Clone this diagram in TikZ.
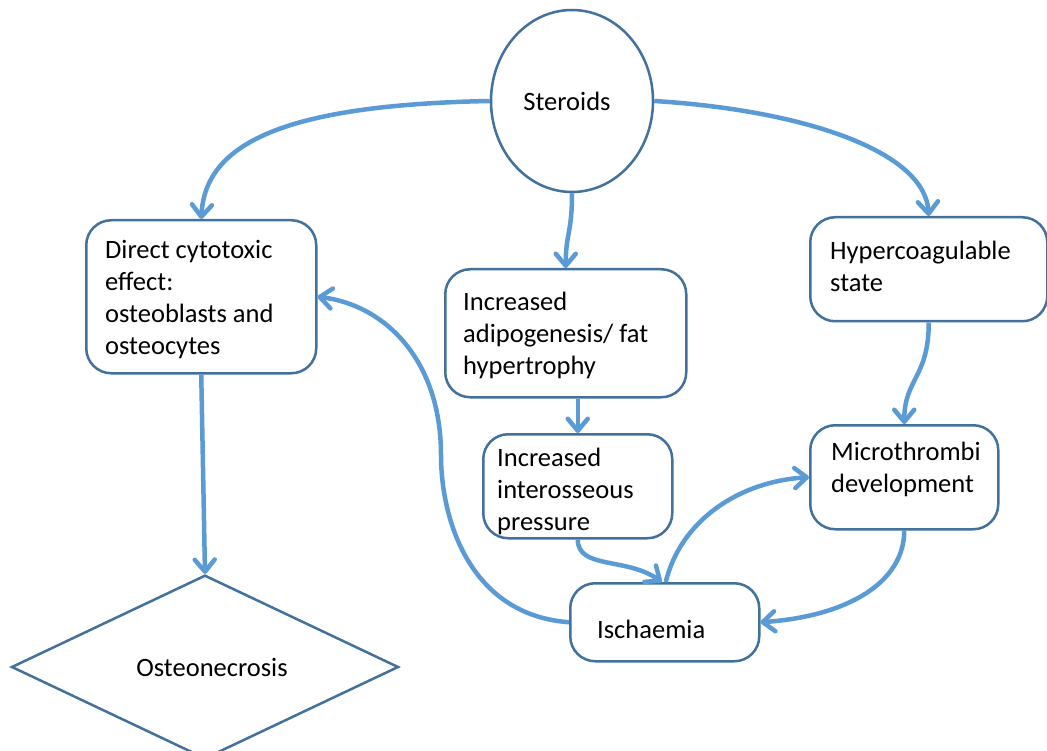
\documentclass[tikz,border=0pt]{standalone}
\usepackage{fontspec}
\setmainfont{Carlito}
\usetikzlibrary{arrows.meta,shapes.geometric}
\definecolor{boxline}{HTML}{41719C}
\definecolor{arr}{HTML}{5B9BD5}
\begin{document}
\begin{tikzpicture}[x=1pt,y=-1pt,
  every node/.style={font=\fontsize{26.5}{32}\selectfont, text=black},
  box/.style={draw=boxline, line width=2.5pt, rounded corners=25pt, fill=white,
    anchor=north west, inner sep=0pt},
  txt/.style={align=flush left, anchor=west, inner sep=0pt},
  conn/.style={draw=arr, line width=4.5pt, -{Straight Barb[length=12pt,width=20pt,round]}}]
\path[use as bounding box, fill=white] (0,0) rectangle (1047,751);

\node[ellipse, draw=boxline, line width=2.5pt, fill=white, minimum width=162, minimum height=182, inner sep=0] (st) at (572,101) {\hspace*{-10pt}Steroids};

\node[box, minimum width=230, minimum height=153] (direct) at (85,219) {};
\node[txt] (directT) at ([xshift=20pt,yshift=-3pt]direct.west)
  {Direct cytotoxic\\effect:\\osteoblasts and\\osteocytes};
\node[box, minimum width=241, minimum height=128] (adipo) at (444,268) {};
\node[txt] (adipoT) at ([xshift=19pt,yshift=-2pt]adipo.west)
  {Increased\\adipogenesis/ fat\\hypertrophy};
\node[box, minimum width=189, minimum height=104] (inter) at (482,433) {};
\node[txt] (interT) at ([xshift=15pt,yshift=-5pt]inter.west)
  {Increased\\interosseous\\pressure};
\node[box, minimum width=237, minimum height=104] (hyper) at (809,216) {};
\node[txt] (hyperT) at ([xshift=21pt,yshift=3pt]hyper.west)
  {Hypercoagulable\\state};
\node[box, minimum width=188, minimum height=104] (micro) at (809,424) {};
\node[txt] (microT) at ([xshift=22pt,yshift=8pt]micro.west)
  {Microthrombi\\development};
\node[box, minimum width=189, minimum height=78] (isch) at (569,582) {};
\node[txt] (ischT) at ([xshift=28pt,yshift=-7pt]isch.west) {Ischaemia};

\node[diamond, draw=boxline, line width=2.5pt, fill=white, minimum width=387, minimum height=176, inner sep=0] (osteo) at (205,667) {\hspace*{14pt}Osteonecrosis};

\coordinate (bend) at (441,455);

\draw[conn] (st.west) .. controls (280,105) and (205,145) .. (direct.north);
\draw[conn] (st.east) .. controls (800,110) and (925,150) .. (hyper.north);
\draw[conn] (st.south) .. controls +(0,40) and +(0,-35) .. (adipo.north);
\draw[conn] (direct.south) -- (osteo.north);
\draw[conn] (adipo.south -| inter.north) -- (inter.north);
\draw[conn] (hyper.south) .. controls +(0,55) and +(0,-45) .. (micro.north);
\draw[conn] (inter.south) .. controls +(0,30) and +(-35,-25) .. ([xshift=-3pt]isch.north);
\draw[conn] ([xshift=1pt]isch.north) .. controls +(15,-62) and +(-69,4) .. (micro.west);
\draw[conn] (micro.south) .. controls +(0,52) and +(87,-6) .. (isch.east);
\draw[conn] (isch.west) .. controls (470,615) and (441,520) .. (bend)
  .. controls (441,360) and (385,305) .. (direct.east);
\end{tikzpicture}
\end{document}
